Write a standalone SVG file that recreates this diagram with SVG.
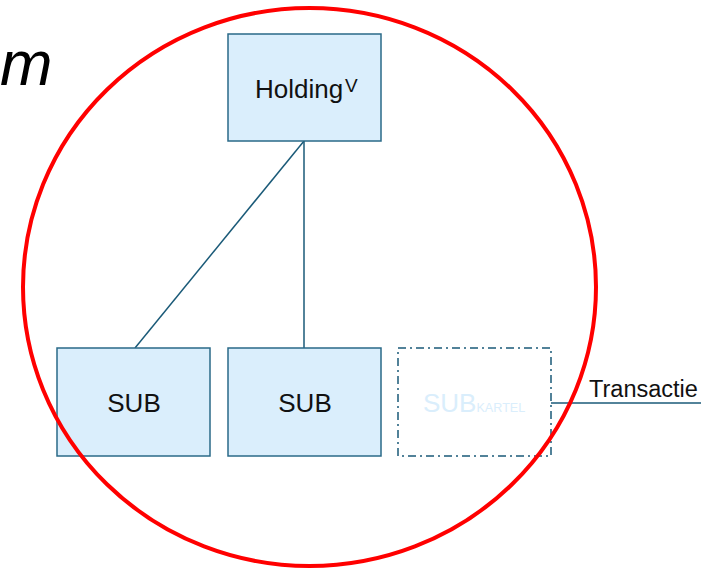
<svg xmlns="http://www.w3.org/2000/svg" width="701" height="572" viewBox="0 0 701 572">
<style>
.box{fill:#daeefc;stroke:#2a6a88;stroke-width:1.5}
.lbl{font-family:"Liberation Sans",Arial,sans-serif;font-size:26px;fill:#111}
.conn{stroke:#1a5a78;stroke-width:1.5;fill:none}
</style>
<rect width="701" height="572" fill="#fff"/>
<text x="0" y="85" font-family="Liberation Sans, Arial, sans-serif" font-style="italic" font-size="63" fill="#000">m</text>
<g id="connectors">
<line class="conn" x1="304" y1="141" x2="135" y2="348"/>
<line class="conn" x1="304" y1="141" x2="304" y2="348"/>
<line class="conn" x1="551" y1="403" x2="701" y2="403" stroke-width="2.5"/>
</g>
<g id="holding">
<rect class="box" x="228" y="34" width="153" height="107"/>
<text class="lbl" x="255" y="98">Holding<tspan x="345" y="92" font-size="19">V</tspan></text>
</g>
<g id="sub1">
<rect class="box" x="57" y="348" width="153" height="108"/>
<text class="lbl" x="134" y="412" text-anchor="middle">SUB</text>
</g>
<g id="sub2">
<rect class="box" x="228" y="348" width="153" height="108"/>
<text class="lbl" x="305" y="412" text-anchor="middle">SUB</text>
</g>
<g id="subkartel">
<rect x="398" y="348" width="153" height="108" fill="#fff" stroke="#1a5a78" stroke-width="1.5" stroke-dasharray="8,4,2,4"/>
<text x="423" y="412" font-family="Liberation Sans, Arial, sans-serif" font-size="26" fill="#daeefc">SUB<tspan font-size="12.6">KARTEL</tspan></text>
</g>
<g id="transactie">
<text x="589" y="397" font-family="Liberation Sans, Arial, sans-serif" font-size="23.5" fill="#111">Transactie</text>
</g>
<ellipse cx="309.5" cy="287" rx="286.5" ry="279" fill="none" stroke="#f00" stroke-width="4"/>
</svg>
